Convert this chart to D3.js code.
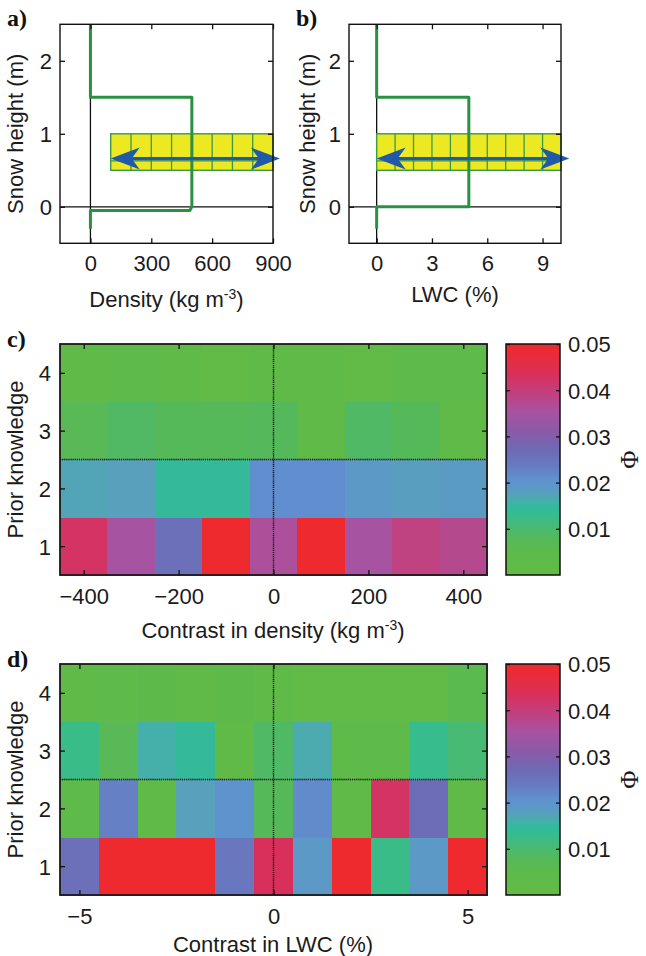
<!DOCTYPE html>
<html><head><meta charset="utf-8">
<script src="https://cdn.jsdelivr.net/npm/d3@7"></script>
<style>
html,body{margin:0;padding:0;background:#fff;}
svg{display:block;}
text{font-family:"Liberation Sans",Arial,Helvetica,sans-serif;fill:#1b1b1b;}
</style></head><body>
<svg id="fig" width="646" height="956"></svg>
<script>
// ---- Snow profiles (panels a, b) ----
const densityHeights = [2.5, 1.5, 1.5, 0, -0.05, -0.05, -0.3];
const densityValues  = [0, 0, 500, 500, 490, 0, 0];
const lwcHeights     = [2.5, 1.5, 1.5, 0, 0, -0.3];
const lwcValues      = [0, 0, 5, 5, 0, 0];

// perturbed layer: tested contrast range and cell edges
const densityCells = [100, 200, 300, 400, 500, 600, 700, 800, 900];
const lwcCells     = [0, 1, 2, 3, 4, 5, 6, 7, 8, 9, 10];
const layerBottom = 0.5, layerTop = 1.0, layerSplit = 0.63;
const arrowHeight = 0.66;
const densityArrow = [100, 934];
const lwcArrow     = [0, 10.45];

const densityTicks = [0, 300, 600, 900];
const lwcTicks     = [0, 3, 6, 9];
const heightTicks  = [0, 1, 2];

// ---- Sensitivity maps (panels c, d) ----
const priorLevels = [1, 2, 3, 4];
const densityContrast = [-400, -300, -200, -100, 0, 100, 200, 300, 400];
const lwcContrast = [-5, -4, -3, -2, -1, 0, 1, 2, 3, 4, 5];

// Φ per prior-knowledge level (rows 1..4) and contrast
const phiDensity1 = [0.0425, 0.035, 0.026, 0.05, 0.036, 0.05, 0.035, 0.039, 0.0375];
const phiDensity2 = [0.017, 0.0175, 0.0145, 0.0145, 0.021, 0.021, 0.019, 0.018, 0.0185];
const phiDensity3 = [0.007, 0.0088, 0.0075, 0.0075, 0.008, 0.003, 0.009, 0.0075, 0.003];
const phiDensity4 = [0.003, 0.004, 0.003, 0.002, 0.003, 0.003, 0.002, 0.004, 0.004];

const phiLwc1 = [0.026, 0.05, 0.05, 0.05, 0.0245, 0.0435, 0.019, 0.05, 0.0125, 0.019, 0.05];
const phiLwc2 = [0.004, 0.023, 0.003, 0.0175, 0.020, 0.0075, 0.0215, 0.003, 0.0425, 0.0265, 0.003];
const phiLwc3 = [0.0125, 0.007, 0.016, 0.0145, 0.003, 0.009, 0.0165, 0.004, 0.004, 0.013, 0.0105];
const phiLwc4 = [0.003, 0.004, 0.005, 0.003, 0.005, 0.003, 0.002, 0.002, 0.002, 0.002, 0.006];

const phiTicks = [0.01, 0.02, 0.03, 0.04, 0.05];

// colour map for Φ
const cmapValues = [0, 0.005, 0.008, 0.011, 0.014, 0.0155, 0.0175, 0.0205, 0.0235, 0.027, 0.031, 0.0355, 0.040, 0.0435, 0.047, 0.05];
const cmapColors = ["#63bb44", "#5dba4a", "#55b95c", "#45ba78", "#2fbd98", "#3db5a2", "#58a0bc", "#5f92d0",
                    "#667cc2", "#6d6bb4", "#8a5aa8", "#a952a0", "#c53d78", "#d8305a", "#e82c3c", "#ee2a2e"];

const svg = d3.select("#fig");
const FS = 22;
const phiColor = d3.scaleLinear().domain(cmapValues).range(cmapColors).clamp(true);

function panelLabel(txt, x, y) {
  svg.append("text").attr("x", x).attr("y", y).text(txt)
    .style("font-family", '"Liberation Serif","Times New Roman",serif')
    .style("font-weight", "bold").style("font-size", "24px").style("fill", "#111");
}

function inwardAxes(g, x, y, xt, yt, xFmt, yFmt, padX, padY) {
  const [x0, x1] = x.range(), [yb, yt0] = y.range();
  const bottom = g.append("g").attr("transform", `translate(0,${yb})`)
    .call(d3.axisBottom(x).tickValues(xt).tickSize(-5).tickPadding(padX).tickFormat(xFmt));
  const top = g.append("g").attr("transform", `translate(0,${yt0})`)
    .call(d3.axisTop(x).tickValues(xt).tickSize(-5).tickFormat(""));
  const left = g.append("g").attr("transform", `translate(${x0},0)`)
    .call(d3.axisLeft(y).tickValues(yt).tickSize(-5).tickPadding(padY).tickFormat(yFmt));
  const right = g.append("g").attr("transform", `translate(${x1},0)`)
    .call(d3.axisRight(y).tickValues(yt).tickSize(-5).tickFormat(""));
  [bottom, top, left, right].forEach(a => {
    a.select(".domain").remove();
    a.selectAll(".tick line").attr("stroke", "#111").attr("stroke-width", 1.3);
    a.selectAll("text").style("font-size", FS + "px").style("fill", "#1b1b1b");
  });
  left.selectAll("text").attr("dy", "0.36em");
}

function arrowHead(tipX, y, dir) {
  // dir: +1 points right, -1 points left
  const L = 29, H = 11, N = 21;
  return `M${tipX},${y} L${tipX - dir * L},${y - H} L${tipX - dir * N},${y} L${tipX - dir * L},${y + H} Z`;
}

function drawProfile(o) {
  const g = svg.append("g");
  const x = d3.scaleLinear(o.xDomain, o.xRange);
  const y = d3.scaleLinear([-0.5, 2.5], [243.3, 24.3]);
  const [x0, x1] = o.xRange;

  // reference lines at zero
  g.append("line").attr("x1", x(0)).attr("x2", x(0)).attr("y1", y(-0.5)).attr("y2", y(2.5))
    .attr("stroke", "#111").attr("stroke-width", 1.3);
  g.append("line").attr("x1", x0).attr("x2", x1).attr("y1", y(0)).attr("y2", y(0))
    .attr("stroke", "#111").attr("stroke-width", 1.3);

  // perturbed layer grid
  const cells = o.cells;
  g.append("rect").attr("x", x(cells[0])).attr("y", y(layerTop))
    .attr("width", x(cells[cells.length - 1]) - x(cells[0])).attr("height", y(layerBottom) - y(layerTop))
    .attr("fill", "#ece822").attr("stroke", "#3a9a48").attr("stroke-width", 1.4);
  g.selectAll(".cellline").data(cells.slice(1, -1)).join("line")
    .attr("x1", d => x(d)).attr("x2", d => x(d)).attr("y1", y(layerTop)).attr("y2", y(layerBottom))
    .attr("stroke", "#3a9a48").attr("stroke-width", 1.3);
  g.append("line").attr("x1", x(cells[0])).attr("x2", x(cells[cells.length - 1]))
    .attr("y1", y(layerSplit)).attr("y2", y(layerSplit)).attr("stroke", "#3a9a48").attr("stroke-width", 1.3);

  // profile
  const pts = o.heights.map((h, i) => [x(o.values[i]), y(h)]);
  g.append("path").attr("d", d3.line()(pts)).attr("fill", "none")
    .attr("stroke", "#2a9143").attr("stroke-width", 3).attr("stroke-linejoin", "round");

  // contrast arrow
  const ay = y(arrowHeight), ax0 = x(o.arrow[0]), ax1 = x(o.arrow[1]);
  g.append("line").attr("x1", ax0 + 15).attr("x2", ax1 - 15).attr("y1", ay).attr("y2", ay)
    .attr("stroke", "#2059a9").attr("stroke-width", 3.2);
  g.append("path").attr("d", arrowHead(ax0, ay, -1)).attr("fill", "#2059a9");
  g.append("path").attr("d", arrowHead(ax1, ay, 1)).attr("fill", "#2059a9");

  // box + ticks
  g.append("rect").attr("x", x0).attr("y", y(2.5)).attr("width", x1 - x0).attr("height", y(-0.5) - y(2.5))
    .attr("fill", "none").attr("stroke", "#111").attr("stroke-width", 1.4);
  inwardAxes(g, x, y, o.xTicks, heightTicks, d3.format("d"), d3.format("d"), 12, 8);

  // axis titles
  const xl = g.append("text").attr("x", (x0 + x1) / 2).attr("y", o.xlabelY)
    .attr("text-anchor", "middle").style("font-size", FS + "px");
  o.xlabel(xl);
  g.append("text").attr("transform", `translate(${o.ylabelX},${(y(2.5) + y(-0.5)) / 2}) rotate(-90)`)
    .attr("text-anchor", "middle").style("font-size", FS + "px").text("Snow height (m)");
}

drawProfile({
  xDomain: [-150, 900], xRange: [60, 273], heights: densityHeights, values: densityValues,
  cells: densityCells, arrow: densityArrow, xTicks: densityTicks, xlabelY: 307, ylabelX: 23,
  xlabel: t => { t.append("tspan").text("Density (kg m");
                 t.append("tspan").attr("dy", -8).style("font-size", "14px").text("-3");
                 t.append("tspan").attr("dy", 8).text(")"); }
});
drawProfile({
  xDomain: [-1.5, 10], xRange: [349, 561], heights: lwcHeights, values: lwcValues,
  cells: lwcCells, arrow: lwcArrow, xTicks: lwcTicks, xlabelY: 302, ylabelX: 315,
  xlabel: t => t.text("LWC (%)")
});

// gradient for colour bars
const defs = svg.append("defs");
const grad = defs.append("linearGradient").attr("id", "phiGrad")
  .attr("x1", 0).attr("y1", 1).attr("x2", 0).attr("y2", 0);
grad.selectAll("stop").data(cmapValues).join("stop")
  .attr("offset", d => d / 0.05).attr("stop-color", d => phiColor(d));

function drawMap(o) {
  const g = svg.append("g");
  const x = d3.scaleLinear(o.xDomain, [60, 487]);
  const y = d3.scaleLinear([0.5, 4.5], [o.bottom, o.top]);
  const step = o.contrast[1] - o.contrast[0];
  const cells = [];
  o.rows.forEach((row, r) => row.forEach((v, j) => cells.push({ c: o.contrast[j], p: priorLevels[r], v })));
  g.selectAll(".cell").data(cells).join("rect")
    .attr("x", d => x(d.c - step / 2)).attr("width", x(step) - x(0) + 0.5)
    .attr("y", d => y(d.p + 0.5)).attr("height", y(0.5) - y(1.5) + 0.5)
    .attr("fill", d => phiColor(d.v)).attr("shape-rendering", "crispEdges");

  // dotted separators
  g.append("line").attr("x1", x(0)).attr("x2", x(0)).attr("y1", o.top).attr("y2", o.bottom)
    .attr("stroke", "#111").attr("stroke-width", 1.4).attr("stroke-dasharray", "1.2,0.9");
  g.append("line").attr("x1", 60).attr("x2", 487).attr("y1", y(2.5)).attr("y2", y(2.5))
    .attr("stroke", "#111").attr("stroke-width", 1.4).attr("stroke-dasharray", "1.2,0.9");

  g.append("rect").attr("x", 60).attr("y", o.top).attr("width", 427).attr("height", o.bottom - o.top)
    .attr("fill", "none").attr("stroke", "#1a1a1a").attr("stroke-width", 1.8);
  inwardAxes(g, x, y, o.xTicks, priorLevels, o.xFmt, d3.format("d"), 13, 9);

  const xl = g.append("text").attr("x", 273).attr("y", o.xlabelY)
    .attr("text-anchor", "middle").style("font-size", FS + "px");
  o.xlabel(xl);
  g.append("text").attr("transform", `translate(23,${(o.top + o.bottom) / 2}) rotate(-90)`)
    .attr("text-anchor", "middle").style("font-size", FS + "px").text("Prior knowledge");

  // colour bar
  const cy = d3.scaleLinear([0, 0.05], [o.bottom, o.top]);
  const cb = svg.append("g");
  cb.append("rect").attr("x", 506).attr("y", o.top).attr("width", 54).attr("height", o.bottom - o.top)
    .attr("fill", "url(#phiGrad)").attr("stroke", "#111").attr("stroke-width", 1.5);
  const ca = cb.append("g").attr("transform", "translate(560,0)")
    .call(d3.axisRight(cy).tickValues(phiTicks).tickSize(-4).tickPadding(8).tickFormat(d3.format(".2f")));
  const cl = cb.append("g").attr("transform", "translate(506,0)")
    .call(d3.axisLeft(cy).tickValues(phiTicks).tickSize(-4).tickFormat(""));
  [ca, cl].forEach(a => {
    a.select(".domain").remove();
    a.selectAll(".tick line").attr("stroke", "#111").attr("stroke-width", 1.3);
  });
  ca.selectAll("text").style("font-size", FS + "px").attr("dy", "0.36em").style("fill", "#1b1b1b");
  cb.append("text").attr("transform", `translate(638,${(o.top + o.bottom) / 2}) rotate(-90)`)
    .attr("text-anchor", "middle")
    .style("font-family", '"Liberation Serif","Times New Roman",serif').style("font-size", "25px")
    .text("Φ");
}

drawMap({
  xDomain: [-450, 450], contrast: densityContrast, rows: [phiDensity1, phiDensity2, phiDensity3, phiDensity4],
  top: 344, bottom: 575, xTicks: [-400, -200, 0, 200, 400], xFmt: d3.format("d"), xlabelY: 638,
  xlabel: t => { t.append("tspan").text("Contrast in density (kg m");
                 t.append("tspan").attr("dy", -8).style("font-size", "14px").text("-3");
                 t.append("tspan").attr("dy", 8).text(")"); }
});
drawMap({
  xDomain: [-5.5, 5.5], contrast: lwcContrast, rows: [phiLwc1, phiLwc2, phiLwc3, phiLwc4],
  top: 664, bottom: 895, xTicks: [-5, 0, 5], xFmt: d3.format("d"), xlabelY: 952,
  xlabel: t => t.text("Contrast in LWC (%)")
});

panelLabel("a)", 7, 26);
panelLabel("b)", 296, 26);
panelLabel("c)", 7, 347);
panelLabel("d)", 7, 667);
</script>
</body></html>
